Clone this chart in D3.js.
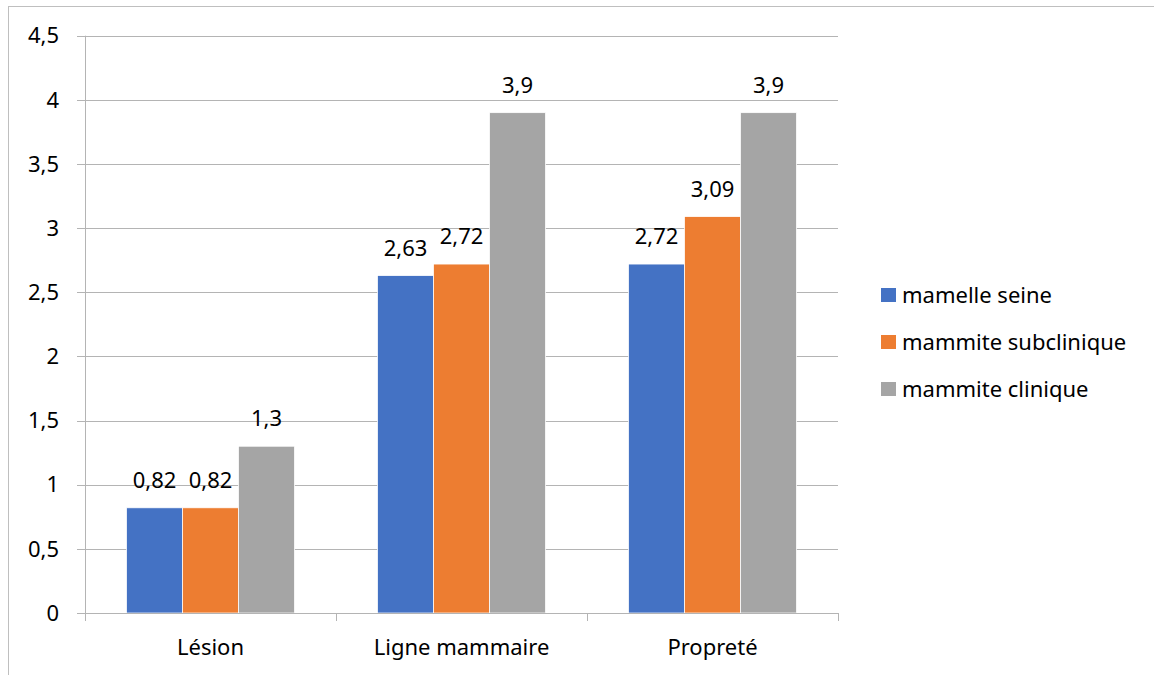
<!DOCTYPE html>
<html>
<head>
<meta charset="utf-8">
<script src="https://cdn.jsdelivr.net/npm/d3@7"></script>
<style>
  html, body { margin: 0; padding: 0; background: #fff; }
  svg { display: block; font-family: "Noto Sans", "Open Sans", sans-serif; }
</style>
</head>
<body>
<svg id="chart" width="1154" height="675"></svg>
<script>
// Categories, series and values
const categories = ["Lésion", "Ligne mammaire", "Propreté"];
const seriesNames = ["mamelle seine", "mammite subclinique", "mammite clinique"];
const mamelleSeine = [0.82, 2.63, 2.72];
const mammiteSubclinique = [0.82, 2.72, 3.09];
const mammiteClinique = [1.3, 3.9, 3.9];
const yTicks = [0, 0.5, 1, 1.5, 2, 2.5, 3, 3.5, 4, 4.5];
const colors = ["#4472C4", "#ED7D31", "#A5A5A5"];

const seriesValues = [mamelleSeine, mammiteSubclinique, mammiteClinique];
const fmt = v => String(v).replace(".", ",");
const FS = 22;

const svg = d3.select("#chart");
const W = 1154, H = 675;
const plot = { left: 85, right: 838, top: 35.7, bottom: 613 };

// chart frame (only top and left edges fall inside the view)
svg.append("rect")
  .attr("x", 8.5).attr("y", 6.5)
  .attr("width", W + 20).attr("height", H + 20)
  .attr("fill", "none").attr("stroke", "#bfbfbf").attr("stroke-width", 1);

const y = d3.scaleLinear().domain([0, 4.5]).range([plot.bottom, plot.top]);
const x0 = d3.scaleBand().domain(categories).range([plot.left, plot.right]).paddingInner(0).paddingOuter(0);
const groupWidth = 168;
const x1 = d3.scaleBand().domain(seriesNames).range([0, groupWidth]).padding(0);

// horizontal gridlines with short left tick extension
const grid = svg.append("g");
grid.selectAll("line").data(yTicks).join("line")
  .attr("x1", plot.left - 8).attr("x2", plot.right)
  .attr("y1", d => Math.round(y(d)) + 0.5).attr("y2", d => Math.round(y(d)) + 0.5)
  .attr("stroke", "#b4b4b4").attr("stroke-width", 1);

// y axis line
svg.append("line")
  .attr("x1", plot.left + 0.5).attr("x2", plot.left + 0.5)
  .attr("y1", plot.top).attr("y2", plot.bottom + 8)
  .attr("stroke", "#b4b4b4").attr("stroke-width", 1);

// y tick labels
svg.append("g").selectAll("text").data(yTicks).join("text")
  .attr("x", 59).attr("y", d => y(d))
  .attr("dy", "0.35em")
  .attr("text-anchor", "end")
  .attr("font-size", FS)
  .attr("fill", "#000")
  .text(d => fmt(d));

// bars
const groups = svg.append("g").selectAll("g").data(categories).join("g")
  .attr("transform", c => `translate(${x0(c) + (x0.bandwidth() - groupWidth) / 2},0)`);

groups.selectAll("rect").data((c, i) => seriesNames.map((s, j) => ({ s, j, v: seriesValues[j][i] })))
  .join("rect")
  .attr("x", d => x1(d.s))
  .attr("y", d => y(d.v))
  .attr("width", x1.bandwidth())
  .attr("height", d => plot.bottom - y(d.v))
  .attr("fill", d => colors[d.j])
  .attr("stroke", "#fff").attr("stroke-width", 0.75);

// value labels
groups.selectAll("text").data((c, i) => seriesNames.map((s, j) => ({ s, j, v: seriesValues[j][i] })))
  .join("text")
  .attr("x", d => x1(d.s) + x1.bandwidth() / 2)
  .attr("y", d => y(d.v) - 20)
  .attr("text-anchor", "middle")
  .attr("font-size", FS)
  .attr("fill", "#000")
  .text(d => fmt(d.v));

// x axis baseline and category ticks
svg.append("line")
  .attr("x1", plot.left).attr("x2", plot.right)
  .attr("y1", Math.round(plot.bottom) + 0.5).attr("y2", Math.round(plot.bottom) + 0.5)
  .attr("stroke", "#b4b4b4").attr("stroke-width", 1);
const boundaries = categories.map(c => x0(c)).concat([plot.right]);
svg.append("g").selectAll("line").data(boundaries).join("line")
  .attr("x1", d => Math.round(d) + 0.5).attr("x2", d => Math.round(d) + 0.5)
  .attr("y1", plot.bottom).attr("y2", plot.bottom + 8)
  .attr("stroke", "#b4b4b4").attr("stroke-width", 1);

// category labels
svg.append("g").selectAll("text").data(categories).join("text")
  .attr("x", c => x0(c) + x0.bandwidth() / 2)
  .attr("y", 655)
  .attr("text-anchor", "middle")
  .attr("font-size", FS)
  .attr("fill", "#000")
  .text(c => c);

// legend
const legend = svg.append("g").selectAll("g").data(seriesNames).join("g")
  .attr("transform", (d, i) => `translate(881,${295 + i * 47})`);
legend.append("rect")
  .attr("x", 0).attr("y", -7).attr("width", 15).attr("height", 14)
  .attr("fill", (d, i) => colors[i]);
legend.append("text")
  .attr("x", 21).attr("y", 0).attr("dy", "0.35em")
  .attr("font-size", FS)
  .attr("fill", "#000")
  .text(d => d);
</script>
</body>
</html>
